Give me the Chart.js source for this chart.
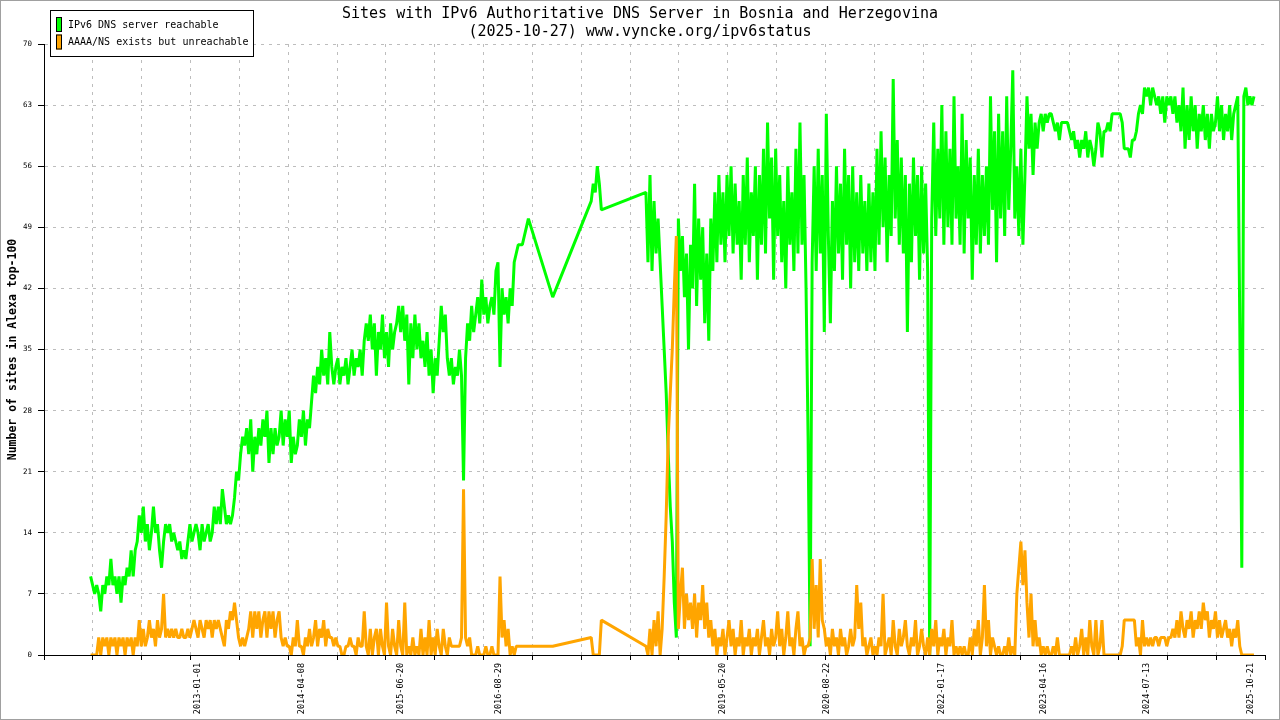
<!DOCTYPE html>
<html lang="en">
<head>
  <meta charset="UTF-8" />
  <title>Sites with IPv6 Authoritative DNS Server in Bosnia and Herzegovina</title>
  <style>
    html, body {
      margin: 0;
      padding: 0;
      background: #fff;
    }
    #grafico {
      display: block;
    }
  </style>
</head>
<body>
  <canvas id="grafico" width="1280" height="720"></canvas>

  <script src="https://cdn.jsdelivr.net/npm/chart.js"></script>
  <script>
    const titleLines = [
      'Sites with IPv6 Authoritative DNS Server in Bosnia and Herzegovina',
      '(2025-10-27) www.vyncke.org/ipv6status'
    ];
    const seriesNames = ['IPv6 DNS server reachable', 'AAAA/NS exists but unreachable'];
    const yTitle = 'Number of sites in Alexa top-100';

    // one sample every 9 days starting here, null = no measurement
    const firstSample = '2011-09-12';
    const sampleStepDays = 9;
    const xRange = ['2011-02-17', '2025-12-22'];
    const dateTicks = ['2013-01-01', '2014-04-08', '2015-06-20', '2016-08-29', '2019-05-20',
      '2020-08-22', '2022-01-17', '2023-04-16', '2024-07-13', '2025-10-21'];
    const yTicks = [0, 7, 14, 21, 28, 35, 42, 49, 56, 63, 70];

    const reachable = [
      9,8,7,8,7,5,8,7,9,8,
      11,8,9,7,9,6,9,8,10,9,
      12,9,12,13,16,14,17,13,15,12,
      14,17,14,15,12,10,13,15,14,15,
      13,14,13,12,13,11,12,11,13,15,
      13,14,15,14,12,15,13,14,15,13,
      14,17,15,17,15,19,17,15,16,15,
      16,18,21,20,23,25,24,26,23,27,
      21,25,23,26,24,27,25,28,22,26,
      23,26,24,25,28,24,27,25,28,22,
      25,23,24,27,25,28,24,27,26,29,
      32,30,33,31,35,32,34,31,37,33,
      31,33,34,31,33,32,34,31,33,35,
      32,34,33,35,32,36,38,36,39,35,
      38,32,37,35,39,34,37,33,38,35,
      37,38,40,37,40,36,39,31,38,34,
      39,35,38,34,36,33,37,32,35,30,
      34,32,36,40,37,39,34,32,34,31,
      33,32,35,32,20,34,38,36,40,37,
      39,41,38,43,39,41,38,40,41,39,
      44,45,33,42,39,41,38,42,40,45,
      46,47,47,47,48,49,50,null,null,null,
      null,null,null,null,null,null,null,null,41,null,
      null,null,null,null,null,null,null,null,null,null,
      null,null,null,null,null,null,null,52,54,53,
      56,54,51,null,null,null,null,null,null,null,
      null,null,null,null,null,null,null,null,null,null,
      null,null,null,null,53,45,55,44,52,46,
      50,45,40,35,30,23,17,13,6,2,
      50,44,48,41,46,35,47,42,54,40,
      50,43,49,38,46,36,50,44,53,45,
      55,47,53,45,55,48,56,46,54,47,
      52,43,55,47,57,45,53,48,56,43,
      55,47,58,46,61,50,57,43,58,48,
      55,45,52,42,56,47,53,44,58,46,
      61,47,55,42,25,1,45,56,44,58,
      46,55,37,62,48,38,52,44,56,46,
      54,43,58,47,55,42,56,45,53,44,
      55,46,52,44,54,45,53,44,58,47,
      60,49,57,45,55,48,66,50,59,47,
      57,46,55,37,54,45,57,48,55,43,
      56,46,54,44,0,50,61,48,58,50,
      63,47,60,49,58,47,64,50,56,47,
      62,46,59,50,57,43,55,47,58,46,
      55,48,56,47,64,51,60,45,62,50,
      60,48,64,51,58,67,50,56,48,58,
      47,55,64,58,62,55,61,58,61,62,
      60,62,61,62,62,61,60,61,59,61,
      61,61,61,60,59,60,58,59,57,59,
      58,60,57,59,58,56,58,61,60,57,
      60,60,61,60,62,62,62,62,62,61,
      58,58,58,57,59,59,60,62,63,62,
      65,64,65,63,65,64,63,64,62,64,
      61,64,63,64,62,64,61,63,60,65,
      58,63,59,64,60,63,58,62,60,63,
      59,62,58,62,60,61,64,60,63,59,
      62,60,63,59,62,63,64,38,10,64,
      65,63,64,63,64
    ];

    const unreachable = [
      0,0,0,0,2,0,2,1,2,0,
      2,1,2,0,2,1,2,0,2,1,
      2,0,2,1,4,1,3,1,2,4,
      2,3,1,4,2,3,7,2,3,2,
      3,2,3,2,2,3,2,2,3,2,
      3,4,3,2,4,3,2,4,3,4,
      2,4,3,4,3,2,1,4,3,5,
      4,6,4,2,1,2,1,2,3,5,
      2,5,3,5,2,4,5,2,5,3,
      5,2,4,5,2,1,2,1,1,0,
      2,1,4,1,1,0,2,1,3,1,
      2,4,1,3,2,4,1,3,2,2,
      1,2,1,1,0,0,1,1,2,1,
      1,0,2,1,1,5,1,0,3,0,
      2,3,0,3,1,0,6,1,0,3,
      1,0,4,1,0,6,0,1,0,2,
      0,1,0,3,0,2,0,4,0,2,
      0,3,1,0,3,1,0,2,1,1,
      1,1,1,2,19,2,1,2,0,0,
      0,1,0,0,0,1,0,0,1,0,
      0,0,9,2,4,1,3,0,1,0,
      1,1,1,1,1,1,1,null,null,null,
      null,null,null,null,null,null,null,null,1,null,
      null,null,null,null,null,null,null,null,null,null,
      null,null,null,null,null,null,null,2,0,0,
      0,0,4,null,null,null,null,null,null,null,
      null,null,null,null,null,null,null,null,null,null,
      null,null,null,null,1,0,3,0,4,1,
      5,0,3,9,16,25,30,35,42,48,
      3,7,10,3,7,4,6,3,7,2,
      6,4,8,3,6,2,4,1,3,0,
      2,1,3,0,2,4,1,3,0,2,
      1,4,0,2,1,3,0,2,1,3,
      0,2,4,1,2,0,3,1,2,5,
      1,3,0,2,5,1,2,0,3,5,
      1,2,0,1,1,2,11,3,8,2,
      11,4,3,1,2,0,3,1,2,0,
      3,1,2,0,1,3,1,2,8,3,
      6,1,2,0,1,2,0,1,0,2,
      1,7,0,1,2,0,4,1,0,3,
      1,2,4,1,0,2,1,4,0,1,
      3,1,0,2,0,3,1,4,0,2,
      1,3,0,2,1,4,0,1,0,1,
      0,1,0,0,2,0,3,1,4,0,
      2,8,1,4,0,2,1,0,1,0,
      0,1,0,2,0,1,0,7,10,13,
      8,12,6,2,7,1,4,1,2,0,
      1,0,1,0,0,1,0,2,0,0,
      0,0,0,0,1,0,2,0,1,3,
      0,2,0,4,1,0,4,0,1,4,
      0,0,0,0,0,0,0,0,0,1,
      4,4,4,4,4,4,1,2,0,4,
      1,2,1,2,1,2,2,1,2,2,
      2,1,2,2,3,2,4,2,5,3,
      2,4,3,5,2,4,3,5,3,6,
      4,5,2,4,3,5,2,4,2,3,
      4,2,3,1,3,2,4,1,0,0,
      0,0,0,0,0
    ];

    const verde = '#00ff00';
    const laranja = '#ffa500';
    const mono = '"DejaVu Sans Mono", "Liberation Mono", monospace';

    // dias desde 1970-01-01
    function dia(s) {
      const [a, m, d] = s.split('-').map(Number);
      return Date.UTC(a, m - 1, d) / 864e5;
    }

    function pontos(valores) {
      const inicio = dia(firstSample);
      return valores.map((v, i) => ({ x: inicio + i * sampleStepDays, y: v }));
    }

    const xMin = dia(xRange[0]);
    const xMax = dia(xRange[1]);
    const grade = [];
    for (let k = 0; k <= 25; k++) grade.push(xMin + (xMax - xMin) * k / 25);

    const moldura = {
      id: 'moldura',
      afterDraw(chart) {
        const ctx = chart.ctx;
        ctx.save();

        ctx.fillStyle = '#000';
        ctx.font = '15px ' + mono;
        ctx.textAlign = 'center';
        ctx.textBaseline = 'middle';
        ctx.fillText(titleLines[0], 640, 14);
        ctx.fillText(titleLines[1], 640, 32);

        // legenda
        ctx.fillStyle = '#fff';
        ctx.fillRect(50, 10, 204, 47);
        ctx.strokeStyle = '#000';
        ctx.lineWidth = 1;
        ctx.strokeRect(50.5, 10.5, 203, 46);
        const cores = [verde, laranja];
        ctx.font = '10px ' + mono;
        ctx.textAlign = 'left';
        seriesNames.forEach((nome, i) => {
          const y = 17 + i * 17.5;
          ctx.fillStyle = cores[i];
          ctx.fillRect(56, y, 6, 15);
          ctx.strokeRect(56.5, y + 0.5, 5, 14);
          ctx.fillStyle = '#000';
          ctx.fillText(nome, 68, y + 8);
        });

        ctx.strokeStyle = '#a0a0a0';
        ctx.strokeRect(0.5, 0.5, 1279, 719);
        ctx.restore();
      }
    };

    new Chart(document.getElementById('grafico'), {
      type: 'line',
      data: {
        datasets: [
          {
            label: seriesNames[0],
            data: pontos(reachable),
            borderColor: verde,
            borderWidth: 3,
            borderJoinStyle: 'bevel',
            pointRadius: 0,
            spanGaps: true,
            tension: 0,
            order: 2
          },
          {
            label: seriesNames[1],
            data: pontos(unreachable),
            borderColor: laranja,
            borderWidth: 3,
            borderJoinStyle: 'bevel',
            pointRadius: 0,
            spanGaps: true,
            tension: 0,
            order: 1
          }
        ]
      },
      options: {
        responsive: false,
        animation: false,
        devicePixelRatio: 1,
        layout: { padding: { top: 44, right: 15, left: 0, bottom: 0 } },
        plugins: {
          legend: { display: false },
          tooltip: { enabled: false }
        },
        scales: {
          x: {
            type: 'linear',
            min: xMin,
            max: xMax,
            afterBuildTicks: s => {
              const t = grade.map(v => ({ value: v, tipo: 'grade' }));
              dateTicks.forEach(d => t.push({ value: dia(d), tipo: 'data', texto: d }));
              t.sort((a, b) => a.value - b.value);
              s.ticks = t;
            },
            afterFit: s => { s.height = 65; },
            ticks: {
              autoSkip: false,
              minRotation: 90,
              maxRotation: 90,
              padding: 3,
              color: '#000',
              font: { family: mono, size: 8.5 },
              callback: (v, i, t) => t[i].tipo === 'data' ? t[i].texto : ''
            },
            grid: {
              lineWidth: 1,
              tickLength: 5,
              color: c => {
                if (!c.tick || c.tick.tipo !== 'grade') return 'rgba(0,0,0,0)';
                if (c.tick.value === xMin || c.tick.value === xMax) return 'rgba(0,0,0,0)';
                return '#bdbdbd';
              },
              tickColor: c => (c.tick && c.tick.tipo === 'grade') ? '#000' : 'rgba(0,0,0,0)'
            },
            border: { display: true, color: '#000', width: 1, dash: [3, 5] }
          },
          y: {
            min: 0,
            max: 70,
            afterBuildTicks: s => { s.ticks = yTicks.map(v => ({ value: v })); },
            afterFit: s => { s.width = 44; },
            ticks: {
              padding: 6,
              color: '#000',
              font: { family: mono, size: 7.5 }
            },
            grid: {
              lineWidth: 1,
              tickLength: 6,
              color: c => (c.tick && c.tick.value === 0) ? 'rgba(0,0,0,0)' : '#bdbdbd',
              tickColor: '#000'
            },
            border: { display: true, color: '#000', width: 1, dash: [3, 5] },
            title: {
              display: true,
              text: yTitle,
              color: '#000',
              font: { family: mono, size: 11.5, weight: 'bold' },
              padding: { top: 6, bottom: 0 }
            }
          }
        }
      },
      plugins: [moldura]
    });
  </script>
</body>
</html>
